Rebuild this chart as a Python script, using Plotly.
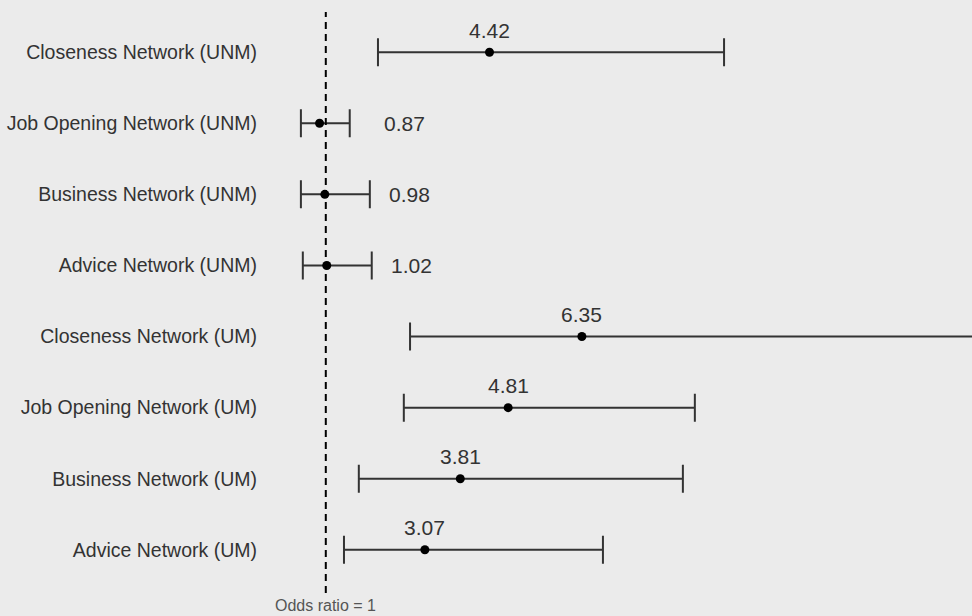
import plotly.graph_objects as go

labels = [
    "Closeness Network (UNM)",
    "Job Opening Network (UNM)",
    "Business Network (UNM)",
    "Advice Network (UNM)",
    "Closeness Network (UM)",
    "Job Opening Network (UM)",
    "Business Network (UM)",
    "Advice Network (UM)",
]
odds_ratio = [4.42, 0.87, 0.98, 1.02, 6.35, 4.81, 3.81, 3.07]
ci_lower = [2.09, 0.48, 0.48, 0.52, 2.76, 2.63, 1.69, 1.38]
ci_upper = [9.32, 1.50, 1.92, 1.96, 15.5, 8.71, 8.46, 6.79]

BG = "#ebebeb"
INK = "#333333"
FONT = "Liberation Sans, Arial, sans-serif"

fig = go.Figure()
fig.add_trace(go.Scatter(
    x=odds_ratio, y=labels, mode="markers",
    marker=dict(color="black", size=9),
    error_x=dict(
        type="data", symmetric=False,
        array=[u - o for u, o in zip(ci_upper, odds_ratio)],
        arrayminus=[o - l for l, o in zip(ci_lower, odds_ratio)],
        color=INK, thickness=2, width=14,
    ),
    showlegend=False, hoverinfo="skip",
))

# reference line at odds ratio = 1
fig.add_shape(type="line", x0=1, x1=1, y0=0.005, y1=0.99, xref="x", yref="paper",
              line=dict(color="black", width=2, dash="7px,5px"))
fig.add_annotation(x=1, y=0, xref="x", yref="paper", yanchor="top", yshift=0,
                   text="Odds ratio = 1", showarrow=False, borderpad=0,
                   font=dict(family=FONT, size=16, color="#555555"))

for lab, o, l, u in zip(labels, odds_ratio, ci_lower, ci_upper):
    if u - l < 2:
        fig.add_annotation(x=o, y=lab, text=f"{o:.2f}", showarrow=False,
                           xanchor="left", xshift=62,
                           font=dict(family=FONT, size=21, color=INK))
    else:
        fig.add_annotation(x=o, y=lab, text=f"{o:.2f}", showarrow=False,
                           yanchor="middle", yshift=22,
                           font=dict(family=FONT, size=21, color=INK))

fig.update_layout(
    width=972, height=616,
    margin=dict(l=265, r=0, t=6, b=20),
    paper_bgcolor=BG, plot_bgcolor=BG,
    font=dict(family=FONT, size=19.5, color=INK),
    xaxis=dict(range=[-0.27, 14.5], showgrid=False, zeroline=False,
               showticklabels=False, ticks="", showline=False),
    yaxis=dict(categoryorder="array", categoryarray=labels[::-1],
               range=[-0.65, 7.65], showgrid=False, zeroline=False,
               ticks="", showline=False, ticklabelstandoff=7,
               tickfont=dict(family=FONT, size=19.5, color=INK)),
)

fig.write_html("out.html", config={"displayModeBar": False},
               post_script="document.body.style.margin='0';document.body.style.background='#ebebeb';")
